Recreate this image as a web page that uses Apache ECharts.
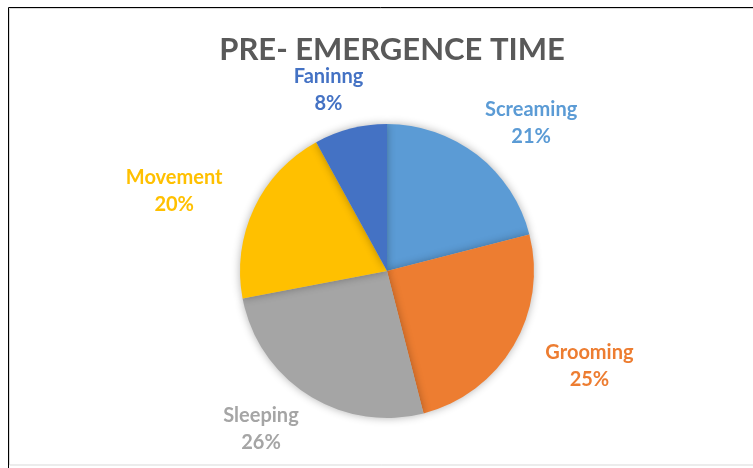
<!DOCTYPE html>
<html>
<head>
<meta charset="utf-8">
<script src="https://cdn.jsdelivr.net/npm/echarts@6/dist/echarts.min.js"></script>
<style>
  html, body { margin: 0; padding: 0; background: #fff; }
  #chart { width: 753px; height: 468px; }
</style>
</head>
<body>
<div id="chart"></div>
<script>
// data
const categories = ['Screaming', 'Grooming', 'Sleeping', 'Movement', 'Faninng'];
const values = [21, 25, 26, 20, 8];
const colors = ['#5B9BD5', '#ED7D31', '#A5A5A5', '#FFC000', '#4472C4'];

const CX = 387, CY = 271, R = 147;
const total = values.reduce((a, b) => a + b, 0);

// label centre sits on an ellipse around the pie (wider than tall, like Excel)
function labelPos(idx) {
  let before = 0;
  for (let i = 0; i < idx; i++) before += values[i];
  const mid = (before + values[idx] / 2) / total * Math.PI * 2;
  return {
    x: CX + Math.sin(mid) * R * 1.6,
    y: CY - Math.cos(mid) * R * 1.27
  };
}

const chart = echarts.init(document.getElementById('chart'));
chart.setOption({
  animation: false,
  title: {
    text: 'PRE- EMERGENCE TIME',
    left: CX,
    textAlign: 'center',
    top: 29,
    textStyle: {
      fontFamily: 'Lato',
      fontWeight: 'bold',
      fontSize: 31,
      color: '#595959'
    }
  },
  graphic: [
    {
      type: 'rect',
      shape: { x: 9.5, y: 8.5, width: 760, height: 456.5 },
      style: { fill: 'none', stroke: '#d9d9d9', lineWidth: 1 }
    },
    {
      type: 'polyline',
      shape: { points: [[8.5, 468], [8.5, 7.5], [753, 7.5]] },
      style: { fill: 'none', stroke: '#000', lineWidth: 1 }
    }
  ],
  series: [
    {
      type: 'pie',
      center: [CX, CY],
      radius: R,
      startAngle: 90,
      clockwise: true,
      avoidLabelOverlap: false,
      data: categories.map((c, i) => ({
        name: c,
        value: values[i],
        itemStyle: { color: colors[i] },
        label: { color: colors[i] }
      })),
      itemStyle: {
        shadowBlur: 8,
        shadowColor: 'rgba(0,0,0,0.3)'
      },
      label: {
        show: true,
        position: 'outside',
        formatter: '{b}\n{d}%',
        fontFamily: 'Lato',
        fontWeight: 'bold',
        fontSize: 20,
        lineHeight: 27,
        align: 'center'
      },
      labelLine: { show: false },
      labelLayout: function (params) {
        const p = labelPos(params.dataIndex);
        return { x: p.x, y: p.y, align: 'center', verticalAlign: 'middle' };
      },
      emphasis: { disabled: true }
    }
  ]
});
</script>
</body>
</html>
